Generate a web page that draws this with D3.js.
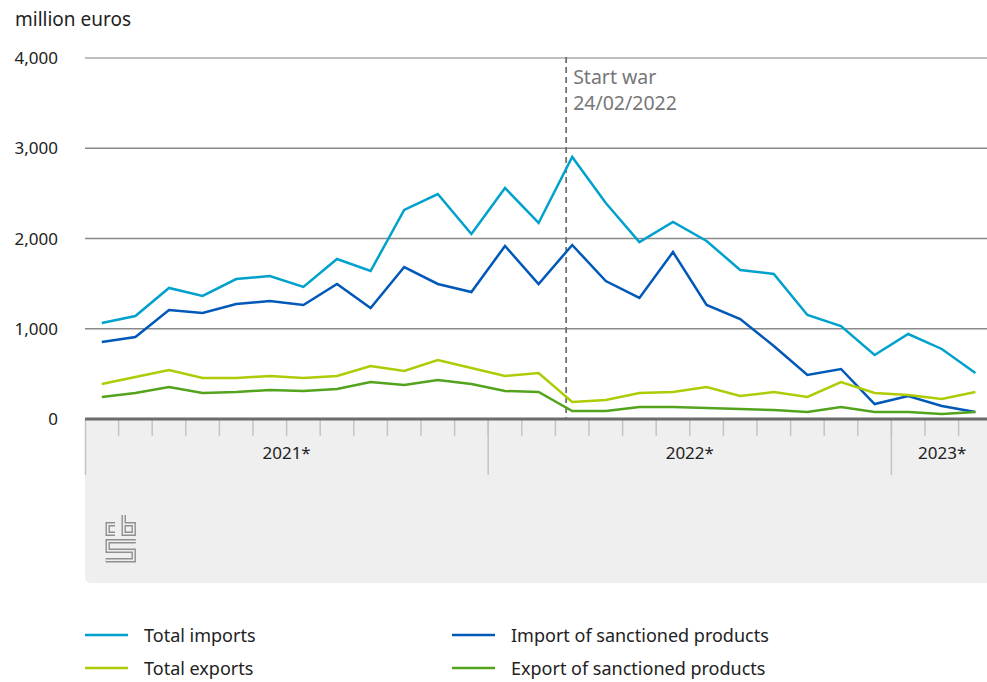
<!DOCTYPE html>
<html><head><meta charset="utf-8">
<script src="https://cdn.jsdelivr.net/npm/d3@7"></script>
<style>
body{margin:0;background:#fff;}
text{font-family:"Noto Sans",sans-serif;}
</style></head>
<body><svg id="chart" width="987" height="682"></svg>
<script>
const months = ["2021-01","2021-02","2021-03","2021-04","2021-05","2021-06","2021-07","2021-08","2021-09","2021-10","2021-11","2021-12",
"2022-01","2022-02","2022-03","2022-04","2022-05","2022-06","2022-07","2022-08","2022-09","2022-10","2022-11","2022-12",
"2023-01","2023-02","2023-03"];
const years = ["2021*","2022*","2023*"];
const totalImports = [1064,1141,1452,1363,1551,1584,1463,1773,1640,2316,2493,2050,2560,2172,2903,2393,1961,2183,1972,1651,1607,1152,1030,709,942,776,510];
const importSanctioned = [853,909,1208,1175,1274,1307,1263,1496,1230,1684,1496,1407,1917,1496,1928,1529,1341,1850,1263,1108,809,488,554,166,255,144,78];
const totalExports = [388,465,543,454,454,476,454,476,587,532,654,565,476,510,188,210,288,299,355,255,299,244,410,288,266,222,299];
const exportSanctioned = [244,288,355,288,299,321,310,332,410,377,432,388,310,299,89,89,133,133,122,111,100,78,133,78,78,55,78];
const yTicks = [0,1000,2000,3000,4000];
const warMonthPos = 14.32; // months after start of Jan 2021
const warLabel = ["Start war","24/02/2022"];
const yUnit = "million euros";

const series = [
  {name:"Total imports", values: totalImports, color:"#00a1cd"},
  {name:"Import of sanctioned products", values: importSanctioned, color:"#0058b8"},
  {name:"Total exports", values: totalExports, color:"#afcb05"},
  {name:"Export of sanctioned products", values: exportSanctioned, color:"#53a31d"}
];

const svg = d3.select("#chart");
const L = 85, R = 987, T = 58, B = 419;
const x = d3.scaleLinear().domain([0, months.length]).range([L, L + 33.6*months.length]);
const y = d3.scaleLinear().domain([0,4000]).range([B, T]);

svg.append("text").attr("x",15).attr("y",26).attr("font-size",19).attr("fill","#222").text(yUnit);

// grid
svg.append("g").selectAll("line").data(yTicks.filter(d=>d>0)).join("line")
  .attr("x1",L).attr("x2",R).attr("y1",d=>y(d)).attr("y2",d=>y(d))
  .attr("stroke",d=>d===4000?"#aaa":"#8a8a8a").attr("stroke-width",1.3);
svg.append("g").selectAll("text").data(yTicks).join("text")
  .attr("x",58).attr("y",d=>y(d)+6).attr("text-anchor","end").attr("font-size",17).attr("fill","#222")
  .text(d=>d3.format(",")(d));

// bottom panel
svg.append("path").attr("fill","#efefef")
  .attr("d",`M${L},${B} H${R+10} V583 H${L+6} Q${L},583 ${L},577 Z`);
// month ticks
svg.append("g").selectAll("line").data(d3.range(1, months.length)).join("line")
  .attr("x1",d=>x(d)).attr("x2",d=>x(d)).attr("y1",B).attr("y2",436)
  .attr("stroke","#c4c4c4").attr("stroke-width",1.5);
// year ticks
svg.append("g").selectAll("line").data([0,12,24]).join("line")
  .attr("x1",d=>x(d)+(d===0?0.5:0)).attr("x2",d=>x(d)+(d===0?0.5:0)).attr("y1",B).attr("y2",475)
  .attr("stroke","#c4c4c4").attr("stroke-width",1.5);
svg.append("g").selectAll("text").data(years).join("text")
  .attr("x",(d,i)=> i<2 ? x(i*12+6) : (x(24)+R)/2+3)
  .attr("y",459).attr("text-anchor","middle").attr("font-size",17).attr("fill","#222")
  .text(d=>d);
// axis line
svg.append("line").attr("x1",L).attr("x2",R).attr("y1",B).attr("y2",B)
  .attr("stroke","#6b6b6b").attr("stroke-width",3);

// logo
const logo = svg.append("g").attr("fill","none").attr("stroke-linejoin","miter");
const logoPaths = [
  "M115,524.3 H107.7 V533.7 H115",
  "M123.7,515 V533.7 H133.7 V524.3 H123.7",
  "M135.7,541.3 H107.7 V550.8 H133.7 V560.3 H105.7"
];
logo.selectAll("path.o").data(logoPaths).join("path").attr("class","o").attr("d",d=>d).attr("stroke","#8f8f8f").attr("stroke-width",4.4);
logo.selectAll("path.i").data(logoPaths).join("path").attr("class","i").attr("d",d=>d).attr("stroke","#efefef").attr("stroke-width",1.6);

// war line
const wx = x(warMonthPos);
svg.append("line").attr("x1",wx).attr("x2",wx).attr("y1",T-1).attr("y2",B)
  .attr("stroke","#707070").attr("stroke-width",1.8).attr("stroke-dasharray","6,4");
svg.append("g").selectAll("text").data(warLabel).join("text")
  .attr("x",wx+7).attr("y",(d,i)=>84+i*26).attr("font-size",19.5).attr("fill","#777").text(d=>d);

// lines
const line = d3.line().x((d,i)=>x(i+0.5)).y(d=>y(d));
svg.append("clipPath").attr("id","clp").append("rect").attr("x",0).attr("y",0).attr("width",R).attr("height",682);
svg.append("g").attr("clip-path","url(#clp)").selectAll("path").data(series).join("path")
  .attr("d",d=>line(d.values)).attr("fill","none").attr("stroke",d=>d.color)
  .attr("stroke-width",2.5).attr("stroke-linejoin","miter");

// legend
const leg = svg.append("g").selectAll("g").data([series[0],series[2],series[1],series[3]]).join("g")
  .attr("transform",(d,i)=>`translate(${i<2?85:452},${i%2===0?635:668})`);
leg.append("line").attr("x1",0).attr("x2",43).attr("stroke",d=>d.color).attr("stroke-width",2.5);
leg.append("text").attr("x",59).attr("y",6.5).attr("font-size",18).attr("fill","#222").text(d=>d.name);
</script></body></html>
